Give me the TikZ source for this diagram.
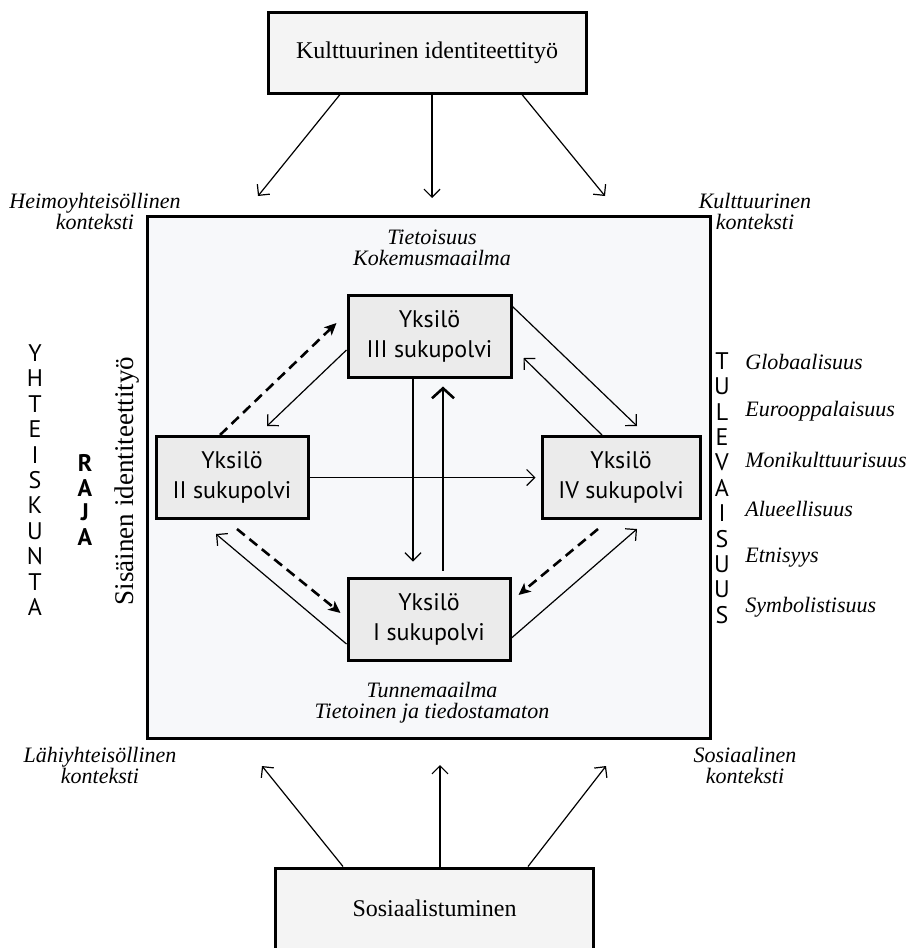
\documentclass[tikz,border=0pt]{standalone}
\usepackage{fontspec}
\setmainfont{Liberation Serif}
\setsansfont{PT Sans}
\usepackage{xcolor}
\usepackage{tikz}
\usetikzlibrary{arrows.meta,positioning,calc}
\definecolor{framebg}{HTML}{F7F8FA}
\definecolor{outerbg}{HTML}{F4F4F4}
\definecolor{innerbg}{HTML}{EBEBEB}

\begin{document}
\begin{tikzpicture}[
  x=0.5pt, y=-0.5pt,
  frame/.style  ={draw=black, line width=1.5pt, fill=framebg, minimum width=281.5pt, minimum height=261pt},
  outer/.style  ={draw=black, line width=1.5pt, fill=outerbg, minimum width=159pt, minimum height=40.5pt, font=\fontsize{12}{14}\selectfont},
  gen/.style    ={draw=black, line width=1.5pt, fill=innerbg, minimum height=41pt, align=center, font=\sffamily\fontsize{12}{15}\selectfont},
  ctx/.style    ={font=\itshape\fontsize{11}{10.5}\selectfont, align=center, inner sep=0pt},
  letters/.style={font=\sffamily\fontsize{12}{12.7}\selectfont, align=center, inner sep=0pt},
  arr/.style    ={-{Straight Barb[length=4pt,width=8pt]}, line width=0.6pt},
  big/.style    ={-{Straight Barb[length=5pt,width=11pt]}, line width=1.3pt},
  dsh/.style    ={-{Stealth[length=6pt,width=5.5pt,inset=1.5pt]}, line width=1.3pt, dash pattern=on 5pt off 3pt},
]
  \useasboundingbox (0,0) rectangle (916,948);

  \node[frame] (frame) at (428.5,477) {};
  \node[outer] (top)   at (427,52.5)  {Kulttuurinen identiteettityö};
  \node[outer] (bot)   at (434.5,908.5) {Sosiaalistuminen};

  \node[gen, minimum width=81.5pt] (g3) at (429.5,336) {Yksilö\\III sukupolvi};
  \node[gen, minimum width=76pt]   (g2) at (232,477.5) {Yksilö\\II sukupolvi};
  \node[gen, minimum width=79pt]   (g4) at (621,477.5) {Yksilö\\IV sukupolvi};
  \node[gen, minimum width=81pt]   (g1) at (429,619)   {Yksilö\\I sukupolvi};

  \node[ctx] (heimo) at (95,211)  {Heimoyhteisöllinen\\konteksti};
  \node[ctx] (kult)  at (755,211) {Kulttuurinen\\konteksti};
  \node[ctx] (lahi)  at (100,765) {Lähiyhteisöllinen\\konteksti};
  \node[ctx] (sos)   at (745,765) {Sosiaalinen\\konteksti};
  \node[ctx] (tiet)  at (432,248) {Tietoisuus\\Kokemusmaailma};
  \node[ctx] (tunne) at (432,703) {Tunnemaailma\\Tietoinen ja tiedostamaton};

  \node[letters] (yht)  at (35,480)  {Y\\H\\T\\E\\I\\S\\K\\U\\N\\T\\A};
  \node[letters, font=\sffamily\bfseries\fontsize{12}{12.4}\selectfont] (raja) at (85,500) {R\\A\\J\\A};
  \node[letters] (tul)  at (722,488) {T\\U\\L\\E\\V\\A\\I\\S\\U\\U\\S};
  \node[rotate=90, font=\fontsize{13.5}{15}\selectfont] (sis) at (127,481) {Sisäinen identiteettityö};

  \foreach \w [count=\k] in {Globaalisuus,Eurooppalaisuus,Monikulttuurisuus,Alueellisuus,Etnisyys,Symbolistisuus}
    \node[ctx, anchor=west] (f\k) at (745,{313+49*\k}) {\w};

  \coordinate (t1) at (258,196);
  \coordinate (t2) at (432,198);
  \coordinate (t3) at (605,196);
  \coordinate (b1) at (262,766);
  \coordinate (b2) at (440,765);
  \coordinate (b3) at (606,766);

  \draw[arr] ($(top.south)+(-87,0)$) -- (t1);
  \draw[arr] ($(top.south)+(5,0)$)   -- (t2);
  \draw[arr] ($(top.south)+(95,0)$)  -- (t3);
  \draw[arr] ($(bot.north)+(-91.5,0)$) -- (b1);
  \draw[arr] ($(bot.north)+(5.5,0)$)   -- (b2);
  \draw[arr] ($(bot.north)+(93.5,0)$)  -- (b3);

  \draw[dsh] ($(g2.north)+(-12,0)$)     -- ($(g3.west)+(-10,-13)$);
  \draw[arr] ($(g3.west)+(0,14)$)       -- ($(g2.north)+(35,-9)$);
  \draw[arr] ($(g3.north east)+(0,13)$) -- ($(g4.north)+(16,-9)$);
  \draw[arr] ($(g4.north)+(-19,0)$)     -- ($(g3.east)+(11,22)$);
  \draw[arr] (g2.east)                  -- ($(g4.west)+(-5,0)$);
  \draw[arr] ($(g3.south)+(-16.5,0)$)   -- ($(g1.north)+(-16,-15)$);
  \draw[big] ($(g1.north)+(14,-6)$)     -- ($(g3.south)+(13.5,8)$);
  \draw[dsh] ($(g2.south)+(5,9)$)       -- ($(g1.west)+(-6,-6)$);
  \draw[arr] ($(g1.west)+(0,25)$)       -- ($(g2.south)+(-16,14)$);
  \draw[dsh] ($(g4.south)+(-23,9)$)     -- ($(g1.east)+(7,-24)$);
  \draw[arr] ($(g1.east)+(0,19)$)       -- ($(g4.south)+(16,9)$);
\end{tikzpicture}
\end{document}
